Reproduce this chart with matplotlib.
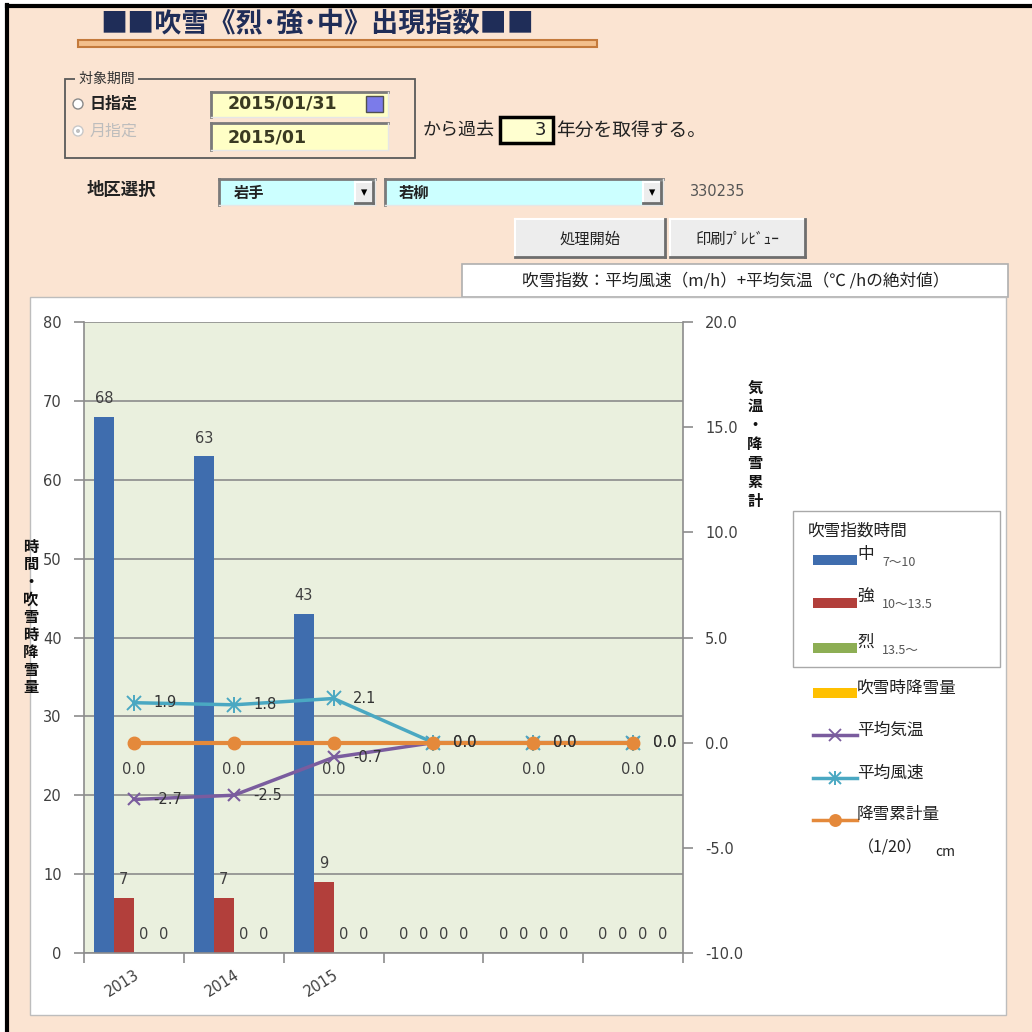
import numpy as np
import matplotlib
matplotlib.use("Agg")
import matplotlib.pyplot as plt
from matplotlib.patches import Rectangle, Circle

plt.rcParams['font.family'] = ['Noto Sans CJK JP', 'DejaVu Sans']
NUM_FONT = ['DejaVu Sans']

# ---- data ----
years = ['2013', '2014', '2015', '', '', '']
hours_mid = [68, 63, 43, 0, 0, 0]        # 中 7～10
hours_strong = [7, 7, 9, 0, 0, 0]        # 強 10～13.5
hours_severe = [0, 0, 0, 0, 0, 0]        # 烈 13.5～
snow_during = [0, 0, 0, 0, 0, 0]         # 吹雪時降雪量
avg_temp = [-2.7, -2.5, -0.7, 0.0, 0.0, 0.0]
avg_wind = [1.9, 1.8, 2.1, 0.0, 0.0, 0.0]
snow_cum = [0.0, 0.0, 0.0, 0.0, 0.0, 0.0]

bar_names = ['中', '強', '烈', '吹雪時降雪量']
bar_ranges = ['7～10', '10～13.5', '13.5～', '']
line_names = ['平均気温', '平均風速', '降雪累計量']

C_BLUE = '#3F6DAE'
C_RED = '#B23F3B'
C_GREEN = '#8DAE54'
C_YELLOW = '#FFC000'
C_PURPLE = '#7A5C9E'
C_CYAN = '#4AA8C2'
C_ORANGE = '#E4893B'
PEACH = '#FBE4D2'
GRID = '#8C8C8C'
TXT = '#404040'

W = H = 1032
fig = plt.figure(figsize=(10.32, 10.32), dpi=100)
fig.patch.set_facecolor('white')


def px_axes(z):
    a = fig.add_axes([0, 0, 1, 1], zorder=z)
    a.set_xlim(0, W)
    a.set_ylim(H, 0)
    a.axis('off')
    a.patch.set_visible(False)
    return a


ui = px_axes(0)
top = px_axes(10)


def rect(a, x0, y0, x1, y1, **kw):
    a.add_patch(Rectangle((x0, y0), x1 - x0, y1 - y0, **kw))


def sunken(a, x0, y0, x1, y1, fc):
    rect(a, x0, y0, x1, y1, fc=fc, ec='none')
    a.plot([x0, x1], [y0, y0], color='#7A7A7A', lw=2)
    a.plot([x0, x0], [y0, y1], color='#7A7A7A', lw=2)
    a.plot([x0, x1], [y1, y1], color='#E6E6E6', lw=1)
    a.plot([x1, x1], [y0, y1], color='#E6E6E6', lw=1)


def raised(a, x0, y0, x1, y1, fc='#EDEDED'):
    rect(a, x0, y0, x1, y1, fc=fc, ec='none')
    a.plot([x0, x1], [y0, y0], color='white', lw=1.5)
    a.plot([x0, x0], [y0, y1], color='white', lw=1.5)
    a.plot([x0, x1], [y1, y1], color='#6E6E6E', lw=2)
    a.plot([x1, x1], [y0, y1], color='#6E6E6E', lw=2)


def star_marker(a, xs, ys, col, ms, **kw):
    # Excel-style star: an x with a vertical stroke through it
    a.plot(xs, ys, ls='none', marker='x', ms=ms, mew=1.4, color=col, **kw)
    a.plot(xs, ys, ls='none', marker='|', ms=ms * 1.1, mew=1.4, color=col,
           **kw)


# ---- sheet background and frame ----
rect(ui, 7, 7, W, H, fc=PEACH, ec='none')
ui.plot([7, 7], [5, H], color='black', lw=3)
ui.plot([7, W], [6, 6], color='black', lw=3)

# ---- title ----
rect(ui, 78, 40, 597, 47, fc='#F3BF8C', ec='#C47A3C', lw=1.5)
ui.text(100, 24, '■■吹雪《烈･強･中》出現指数■■', fontsize=19.5,
        fontweight='bold', color='#1F2D58', va='center', ha='left')

# ---- period group box ----
rect(ui, 65, 79, 415, 158, fc='none', ec='#5A5A5A', lw=1.3)
ui.text(76, 79, ' 対象期間 ', fontsize=10, color='#333333', va='center',
        ha='left', bbox=dict(fc=PEACH, ec='none', pad=0.5))
ui.add_patch(Circle((78, 104), 5, fc='white', ec='#8A8A8A', lw=1))
ui.text(90, 104, '日指定', fontsize=11.5, color='#222222', va='center',
        fontweight='bold')
ui.add_patch(Circle((78, 131), 5, fc='white', ec='#C8C8C8', lw=1))
ui.add_patch(Circle((78, 131), 2, fc='#C0C0C0', ec='none'))
ui.text(90, 131, '月指定', fontsize=11.5, color='#BDBDBD', va='center')

sunken(ui, 211, 92, 388, 117, '#FFFFC6')
ui.text(228, 104, '2015/01/31', fontsize=12.5, family=NUM_FONT,
        fontweight='bold', color='#3A3A22', va='center')
rect(ui, 366, 96, 383, 112, fc='#7B7BEA', ec='#505050', lw=1)
sunken(ui, 211, 123, 388, 150, '#FFFFC6')
ui.text(228, 138, '2015/01', fontsize=12.5, family=NUM_FONT,
        fontweight='bold', color='#3A3A22', va='center')

ui.text(423, 130, 'から過去', fontsize=13, color='#222222', va='center')
rect(ui, 500, 117, 553, 143, fc='#FFFFD0', ec='black', lw=2.5)
ui.text(546, 130, '3', fontsize=13, family=NUM_FONT, color='#222222',
        va='center', ha='right')
ui.text(556, 130, '年分を取得する。', fontsize=13.5, color='#222222',
        va='center')

# ---- area selection ----
ui.text(87, 190, '地区選択', fontsize=12.5, color='#222222', va='center',
        fontweight='bold')
sunken(ui, 219, 179, 375, 205, '#CCFFFF')
ui.text(234, 193, '岩手', fontsize=11, color='#222222', va='center',
        fontweight='bold')
raised(ui, 355, 182, 373, 203)
ui.text(364, 193, '▾', fontsize=9, color='black', ha='center', va='center')
sunken(ui, 385, 179, 663, 205, '#CCFFFF')
ui.text(399, 193, '若柳', fontsize=11, color='#222222', va='center',
        fontweight='bold')
raised(ui, 643, 182, 661, 203)
ui.text(652, 193, '▾', fontsize=9, color='black', ha='center', va='center')
ui.text(690, 192, '330235', fontsize=10.5, family=NUM_FONT, color='#555555',
        va='center')

# ---- buttons ----
raised(ui, 515, 219, 665, 257)
ui.text(590, 239, '処理開始', fontsize=11, color='#222222', ha='center',
        va='center')
raised(ui, 670, 219, 805, 257)
ui.text(737, 239, '印刷ﾌﾟﾚﾋﾞｭｰ', fontsize=11, color='#222222', ha='center',
        va='center')

# ---- formula label ----
rect(ui, 462, 264, 1008, 297, fc='white', ec='#AFAFAF', lw=1.2)
ui.text(736, 281, '吹雪指数：平均風速（m/h）+平均気温（℃ /hの絶対値）',
        fontsize=12, color='#222222', ha='center', va='center')

# ---- chart area ----
rect(ui, 30, 297, 1006, 1015, fc='white', ec='#BDBDBD', lw=1)

# ---- plot ----
PL, PR, PT, PB = 84, 683, 322, 953
ax = fig.add_axes([PL / W, (H - PB) / H, (PR - PL) / W, (PB - PT) / H],
                  zorder=2)
ax.set_facecolor('#EAF0DE')
x = np.arange(len(years))
bw = 0.2
bar_series = [hours_mid, hours_strong, hours_severe, snow_during]
bar_colors = [C_BLUE, C_RED, C_GREEN, C_YELLOW]
offsets = [-0.3, -0.1, 0.1, 0.3]
for vals, col, off in zip(bar_series, bar_colors, offsets):
    ax.bar(x + off, vals, bw, color=col, zorder=2)
    for xi, v in zip(x, vals):
        ax.annotate(f'{v:d}', (xi + off, v), xytext=(0, 13),
                    textcoords='offset points', ha='center', va='center',
                    fontsize=10.5, family=NUM_FONT, color=TXT, zorder=5)

ax.set_xlim(-0.5, len(years) - 0.5)
ax.set_ylim(0, 80)
ax.set_yticks(np.arange(0, 81, 10))
ax.yaxis.grid(True, color=GRID, lw=1.2)
ax.set_axisbelow(True)
ax.set_xticks(np.arange(len(years) + 1) - 0.5)
ax.set_xticklabels([])
ax.set_xticks(x, minor=True)
ax.set_xticklabels(years, minor=True, rotation=32, ha='right',
                   rotation_mode='anchor', family=NUM_FONT, fontsize=10.5,
                   color=TXT)
ax.tick_params(axis='x', which='major', length=7, width=1.2, color=GRID)
ax.tick_params(axis='x', which='minor', length=0, pad=10)
ax.tick_params(axis='y', length=7, width=1.2, color=GRID, pad=9,
               labelsize=10.5, labelcolor=TXT)
for lab in ax.get_yticklabels():
    lab.set_family(NUM_FONT)
for s in ['left', 'bottom']:
    ax.spines[s].set_color(GRID)
    ax.spines[s].set_linewidth(1.2)
ax.spines['top'].set_visible(False)
ax.spines['right'].set_visible(False)

ax2 = ax.twinx()
ax2.set_ylim(-10, 20)
rticks = np.arange(-10, 21, 5)
ax2.set_yticks(rticks)
ax2.set_yticklabels([f'{v:.1f}' for v in rticks], family=NUM_FONT)
ax2.tick_params(axis='y', length=7, width=1.2, color=GRID, pad=9,
                labelsize=10.5, labelcolor=TXT)
ax2.spines['right'].set_color(GRID)
ax2.spines['right'].set_linewidth(1.2)
for s in ['top', 'left', 'bottom']:
    ax2.spines[s].set_visible(False)

ax2.plot(x, avg_temp, color=C_PURPLE, lw=2.5, marker='x', ms=9, mew=1.5)
ax2.plot(x, avg_wind, color=C_CYAN, lw=2.5)
star_marker(ax2, x, avg_wind, C_CYAN, 10)
ax2.plot(x, snow_cum, color=C_ORANGE, lw=3, marker='o', ms=9)

# temperature and wind labels share the same offset to the right of the point
for xi, v in zip(x, avg_temp):
    ax2.annotate(f'{v:.1f}', (xi, v), xytext=(14, 0),
                 textcoords='offset points', ha='left', va='center',
                 fontsize=10.5, family=NUM_FONT, color='#333333')
for xi, v in zip(x, avg_wind):
    ax2.annotate(f'{v:.1f}', (xi, v), xytext=(14, 0),
                 textcoords='offset points', ha='left', va='center',
                 fontsize=10.5, family=NUM_FONT, color='#333333')
for xi, v in zip(x, snow_cum):
    ax2.annotate(f'{v:.1f}', (xi, v), xytext=(0, -19.5),
                 textcoords='offset points', ha='center', va='center',
                 fontsize=10.5, family=NUM_FONT, color=TXT)

# ---- axis titles (stacked vertical text) ----
top.text(31, 617, '\n'.join('時間・吹雪時降雪量'), fontsize=11,
         fontweight='bold', color='#111111', ha='center', va='center',
         linespacing=1.12)
top.text(755, 444, '\n'.join('気温・降雪累計'), fontsize=11,
         fontweight='bold', color='#111111', ha='center', va='center',
         linespacing=1.22)

# ---- legend ----
rect(top, 793, 511, 1000, 667, fc='white', ec='#A9A9A9', lw=1)
top.text(808, 531, '吹雪指数時間', fontsize=12, color='#222222', va='center')
leg_y = [560, 603, 648, 693]
for name, rng, col, yc in zip(bar_names, bar_ranges, bar_colors, leg_y):
    rect(top, 813, yc - 5, 857, yc + 5, fc=col, ec='none')
    if rng:
        top.text(857, yc - 6, name, fontsize=12, color='#222222',
                 va='center')
        top.text(882, yc + 2, rng, fontsize=9, color='#555555',
                 va='center')
    else:
        top.text(857, yc - 5, name, fontsize=12, color='#222222',
                 va='center')

line_styles = [(C_PURPLE, 'x', 8), (C_CYAN, 'star', 9),
               (C_ORANGE, 'o', 8)]
line_y = [735, 778, 820]
for name, (col, mk, ms), yc in zip(line_names, line_styles, line_y):
    top.plot([813, 857], [yc, yc], color=col, lw=2.5)
    if mk == 'star':
        star_marker(top, [835], [yc], col, ms)
    else:
        top.plot([835], [yc], color=col, marker=mk, ms=ms, mew=1.3)
    top.text(857, yc - 5, name, fontsize=12, color='#222222', va='center')
top.text(858, 848, '（1/20）', fontsize=11.5, color='#222222', va='center')
top.text(935, 852, 'cm', fontsize=10, color='#222222', va='center')

fig.savefig('out.png', dpi=100, facecolor=fig.get_facecolor())
